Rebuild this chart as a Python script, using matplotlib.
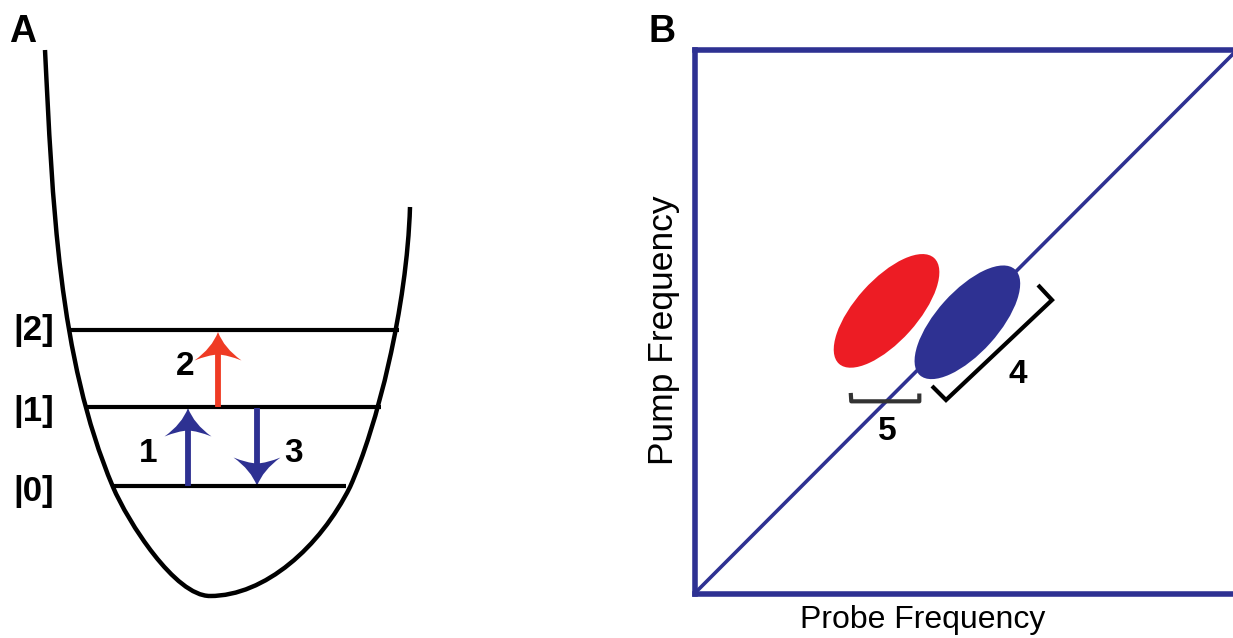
import matplotlib
matplotlib.use('Agg')
import matplotlib.pyplot as plt
from matplotlib.path import Path
from matplotlib.patches import PathPatch, Ellipse

plt.rcParams['font.family'] = ['Liberation Sans', 'DejaVu Sans']

W, H = 1233, 638
BLUE = '#2e3192'
RED = '#ed1c24'
RED_ARROW = '#ef3b24'

# ---------------- Panel A data (pixel units of the schematic) ----------------
level_labels = ['|0]', '|1]', '|2]']
level_y = [486, 407, 330]
level_x0 = [113, 87, 70]
level_x1 = [346, 381, 399]
level_label_x = 34
level_label_base = [501, 421, 340]

# potential well, cubic Bezier control points
well_left = [(45, 50), (52.5, 200), (58, 357), (113, 487), (128, 522), (175, 596), (210, 596)]
well_right = [(210, 596), (265, 596), (320, 547), (350, 487), (377, 427), (407, 307), (410, 207)]

arrow_labels = ['1', '2', '3']
arrow_x = [188, 218, 257]
arrow_from = [486, 407, 408]
arrow_to = [408, 332, 486]
arrow_colors = [BLUE, RED_ARROW, BLUE]
arrow_label_x = [148, 185, 294]
arrow_label_base = [462, 375, 462]

# ---------------- Panel B data (axes units) ----------------
diag_x = [0, 1]
diag_y = [0, 1]
peak_names = ['excited', 'ground']
peak_x = [0.354, 0.503]
peak_y = [0.520, 0.499]
peak_major = 0.262
peak_minor = 0.114
peak_angle = 48
peak_colors = [RED, BLUE]

bracket4_x = [0.6332, 0.659, 0.4636, 0.4378]
bracket4_y = [0.5676, 0.540, 0.356, 0.3818]
bracket5_x = [0.288, 0.289, 0.4144, 0.4144]
bracket5_y = [0.369, 0.3536, 0.3536, 0.368]
bracket_labels = ['4', '5']
bracket_label_x = [0.596, 0.356]
bracket_label_y = [0.387, 0.283]

fig = plt.figure(figsize=(12.33, 6.38), dpi=100)
ax = fig.add_axes([0, 0, 1, 1])
ax.set_xlim(0, W)
ax.set_ylim(H, 0)
ax.axis('off')

# well
for pts in (well_left, well_right):
    codes = [Path.MOVETO] + [Path.CURVE4] * (len(pts) - 1)
    ax.add_patch(PathPatch(Path(pts, codes), fill=False, lw=3.2, edgecolor='black',
                           capstyle='butt', joinstyle='round'))

# levels
for y, x0, x1, lab, yb in zip(level_y, level_x0, level_x1, level_labels, level_label_base):
    ax.plot([x0, x1], [y, y], color='black', lw=3.0, solid_capstyle='butt')
    ax.text(level_label_x, yb, lab, ha='center', va='baseline', fontsize=25,
            fontweight='bold')

# arrows
def arrow_head(x, ytip, d, color):
    # d = +1 : pointing up (head below tip in px), d = -1 : pointing down
    rel = [(0, 0), (-6, 16), (-23.5, 28.5), (-10, 23), (0, 22.5), (10, 23), (23.5, 28.5),
           (6, 16), (0, 0), (0, 0)]
    verts = [(x + a, ytip + d * b) for a, b in rel]
    codes = [Path.MOVETO] + [Path.CURVE3] * 8 + [Path.CLOSEPOLY]
    ax.add_patch(PathPatch(Path(verts, codes), facecolor=color, edgecolor='none'))

for x, y0, y1, c, lab, lx, lb in zip(arrow_x, arrow_from, arrow_to, arrow_colors,
                                     arrow_labels, arrow_label_x, arrow_label_base):
    d = 1 if y1 < y0 else -1
    ax.plot([x, x], [y0, y1 + d * 21], color=c, lw=4.2, solid_capstyle='butt')
    arrow_head(x, y1, d, c)
    ax.text(lx, lb, lab, ha='center', va='baseline', fontsize=24, fontweight='bold')

ax.text(23, 42, 'A', ha='center', va='baseline', fontsize=27, fontweight='bold')
ax.text(662, 42, 'B', ha='center', va='baseline', fontsize=27, fontweight='bold')
ax.text(923, 628, 'Probe Frequency', ha='center', va='baseline', fontsize=23)
ax.text(673, 330, 'Pump Frequency', ha='center', va='baseline', fontsize=25.5,
        rotation=90, rotation_mode='anchor')

# ---------------- Panel B ----------------
axb = fig.add_axes([694.5 / W, (H - 593.5) / H, (1237 - 694.5) / W, (593.5 - 50) / H])
axb.set_xlim(0, 1)
axb.set_ylim(0, 1)
axb.patch.set_visible(False)
axb.set_xticks([])
axb.set_yticks([])
for s in axb.spines.values():
    s.set_color(BLUE)
    s.set_linewidth(4)
axb.plot(diag_x, diag_y, color=BLUE, lw=2.6, solid_capstyle='butt')
for x, y, c in zip(peak_x, peak_y, peak_colors):
    axb.add_patch(Ellipse((x, y), peak_major, peak_minor, angle=peak_angle,
                          facecolor=c, edgecolor='none', zorder=3))
axb.plot(bracket4_x, bracket4_y, color='black', lw=3.0, solid_joinstyle='miter',
         solid_capstyle='butt', zorder=4)
axb.plot(bracket5_x, bracket5_y, color='#333333', lw=3.0, solid_joinstyle='round',
         solid_capstyle='butt', zorder=4)
for lab, x, y in zip(bracket_labels, bracket_label_x, bracket_label_y):
    axb.text(x, y, lab, ha='center', va='baseline', fontsize=24, fontweight='bold')

fig.savefig('out.png', dpi=100)
